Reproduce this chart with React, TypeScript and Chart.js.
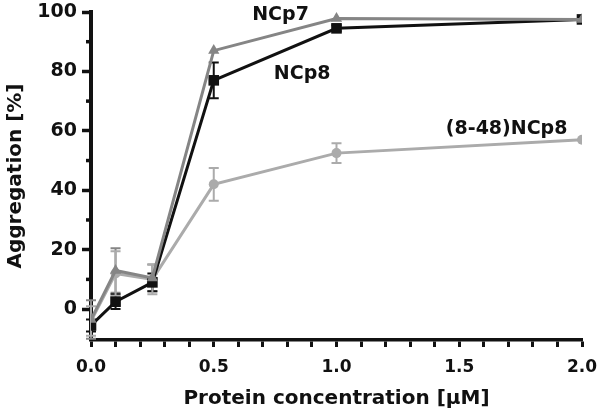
import React, { useEffect, useRef } from 'react';
import { Chart, registerables } from 'chart.js';

Chart.register(...registerables);

// ---- data ----
const concentrations = [0, 0.1, 0.25, 0.5, 1.0, 2.0];
const seriesNames = ['NCp7', 'NCp8', '(8-48)NCp8'];
const ncp7Values = [-3.5, 13, 10.5, 87, 97.8, 97.5];
const ncp7Errors = [6.5, 7.5, 4.5, 0, 0, 0];
const ncp8Values = [-5.5, 2.5, 9, 77, 94.5, 97.5];
const ncp8Errors = [2, 2.5, 3, 6, 1, 0];
const ncp8TruncValues = [-4, 12, 10, 42, 52.5, 57];
const ncp8TruncErrors = [5, 7.5, 5, 5.5, 3.3, 0];
const seriesColors = ['#858585', '#111111', '#ababab'];
const seriesPointStyles = ['triangle', 'rect', 'circle'];
const seriesPointRadius = [6.5, 7.5, 5];
// annotation anchor positions in data units [x, y]
const labelX = [0.772, 0.86, 1.693];
const labelY = [99.1, 79.2, 60.6];
const yMajorTicks = [0, 20, 40, 60, 80, 100];
const yMinorTicks = [10, 30, 50, 70, 90];
const xTicks = [0, 0.1, 0.2, 0.3, 0.4, 0.5, 0.6, 0.7, 0.8, 0.9, 1.0, 1.1, 1.2, 1.3, 1.4, 1.5, 1.6, 1.7, 1.8, 1.9, 2.0];
const xLabelled = [0, 0.5, 1.0, 1.5, 2.0];
const xTitle = 'Protein concentration [\u00B5M]';
const yTitle = 'Aggregation [%]';

const FONT = '"DejaVu Sans", "Liberation Sans", Arial, sans-serif';
const INK = '#111111';

const valuesList = [ncp7Values, ncp8Values, ncp8TruncValues];
const errorsList = [ncp7Errors, ncp8Errors, ncp8TruncErrors];

const errorBarPlugin = {
  id: 'errorBars',
  beforeDatasetsDraw(chart: any) {
    const { ctx } = chart;
    const yScale = chart.scales.y;
    chart.data.datasets.forEach((ds: any, di: number) => {
      const meta = chart.getDatasetMeta(di);
      const errs = errorsList[di];
      ctx.save();
      ctx.strokeStyle = ds.borderColor;
      ctx.lineWidth = 2;
      meta.data.forEach((pt: any, i: number) => {
        const e = errs[i];
        if (!e) return;
        const v = valuesList[di][i];
        const yt = yScale.getPixelForValue(v + e);
        const yb = yScale.getPixelForValue(v - e);
        const x = pt.x;
        const cap = 5;
        ctx.beginPath();
        ctx.moveTo(x, yt);
        ctx.lineTo(x, yb);
        ctx.moveTo(x - cap, yt);
        ctx.lineTo(x + cap, yt);
        ctx.moveTo(x - cap, yb);
        ctx.lineTo(x + cap, yb);
        ctx.stroke();
      });
      ctx.restore();
    });
  },
};

const minorTickPlugin = {
  id: 'minorTicks',
  afterDraw(chart: any) {
    const { ctx, chartArea } = chart;
    const yScale = chart.scales.y;
    ctx.save();
    ctx.strokeStyle = INK;
    ctx.lineWidth = 3.5;
    yMinorTicks.forEach((v) => {
      const y = yScale.getPixelForValue(v);
      ctx.beginPath();
      ctx.moveTo(chartArea.left - 5, y);
      ctx.lineTo(chartArea.left, y);
      ctx.stroke();
    });
    ctx.restore();
  },
};

const seriesLabelPlugin = {
  id: 'seriesLabels',
  afterDatasetsDraw(chart: any) {
    const { ctx } = chart;
    const xs = chart.scales.x;
    const ys = chart.scales.y;
    ctx.save();
    ctx.fillStyle = INK;
    ctx.font = `bold 19px ${FONT}`;
    ctx.textAlign = 'center';
    ctx.textBaseline = 'middle';
    seriesNames.forEach((name, i) => {
      ctx.fillText(name, xs.getPixelForValue(labelX[i]), ys.getPixelForValue(labelY[i]));
    });
    ctx.restore();
  },
};

export default function App() {
  const canvasRef = useRef<HTMLCanvasElement | null>(null);

  useEffect(() => {
    document.body.style.margin = '0';
    const canvas = canvasRef.current;
    if (!canvas) return;
    const datasets = seriesNames.map((name, i) => ({
      label: name,
      data: concentrations.map((c, j) => ({ x: c, y: valuesList[i][j] })),
      borderColor: seriesColors[i],
      backgroundColor: seriesColors[i],
      borderWidth: 3,
      pointStyle: seriesPointStyles[i] as any,
      pointRadius: seriesPointRadius[i],
      pointBorderWidth: 0,
      pointBackgroundColor: seriesColors[i],
      tension: 0,
    }));

    const chart = new Chart(canvas, {
      type: 'line',
      data: { datasets },
      options: {
        animation: false,
        responsive: false,
        devicePixelRatio: 1,
        layout: { padding: { top: 12, right: 18, left: 0, bottom: 0 } },
        plugins: {
          legend: { display: false },
          tooltip: { enabled: false },
        },
        scales: {
          x: {
            type: 'linear',
            min: 0,
            max: 2,
            afterBuildTicks: (scale: any) => {
              scale.ticks = xTicks.map((v) => ({ value: v }));
            },
            afterFit: (scale: any) => {
              scale.height = 76;
              scale.paddingLeft = 0;
              scale.paddingRight = 0;
            },
            ticks: {
              autoSkip: false,
              maxRotation: 0,
              padding: 10,
              color: INK,
              font: { family: FONT, size: 17, weight: 'bold' },
              callback: (v: any) => {
                const n = Number(v);
                return xLabelled.some((l) => Math.abs(l - n) < 1e-6) ? n.toFixed(1) : '';
              },
            },
            grid: {
              drawOnChartArea: false,
              drawTicks: true,
              tickLength: 7,
              tickWidth: 3,
              tickColor: INK,
            },
            border: { display: true, color: INK, width: 3.5 },
            title: {
              display: true,
              text: xTitle,
              color: INK,
              font: { family: FONT, size: 20, weight: 'bold' },
              padding: { top: 0, bottom: 5 },
            },
          },
          y: {
            type: 'linear',
            min: -10.4,
            max: 100,
            afterBuildTicks: (scale: any) => {
              scale.ticks = yMajorTicks.map((v) => ({ value: v }));
            },
            afterFit: (scale: any) => {
              scale.width = 91;
              scale.paddingTop = 0;
              scale.paddingBottom = 0;
            },
            ticks: {
              autoSkip: false,
              padding: 5,
              color: INK,
              font: { family: FONT, size: 19, weight: 'bold' },
              callback: (v: any) => String(v),
            },
            grid: {
              drawOnChartArea: false,
              drawTicks: true,
              tickLength: 9,
              tickWidth: 3.5,
              tickColor: INK,
            },
            border: { display: true, color: INK, width: 4 },
            title: {
              display: true,
              text: yTitle,
              color: INK,
              font: { family: FONT, size: 20, weight: 'bold' },
              padding: { top: 4, bottom: 0 },
            },
          },
        },
      },
      plugins: [errorBarPlugin, minorTickPlugin, seriesLabelPlugin],
    } as any);

    return () => {
      chart.destroy();
    };
  }, []);

  return (
    <div style={{ width: 600, height: 416, background: '#fff' }}>
      <canvas ref={canvasRef} width={600} height={416} style={{ display: 'block', width: 600, height: 416 }} />
    </div>
  );
}
